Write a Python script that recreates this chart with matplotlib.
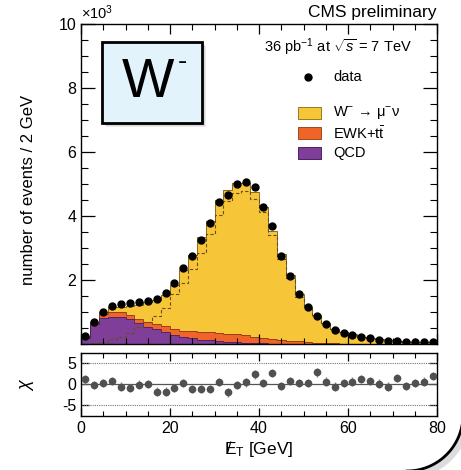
import numpy as np
import matplotlib
matplotlib.use('Agg')
from matplotlib import pyplot as plt
from matplotlib.patches import Rectangle
from matplotlib.ticker import MultipleLocator

plt.rcParams['font.family'] = ['Liberation Sans', 'DejaVu Sans']
plt.rcParams['mathtext.fontset'] = 'custom'
plt.rcParams['mathtext.rm'] = 'Liberation Sans'
plt.rcParams['mathtext.it'] = 'Liberation Sans:italic'
plt.rcParams['mathtext.bf'] = 'Liberation Sans:bold'

# MET bins, 2 GeV wide, counts in units of 10^3
edges = np.arange(0, 82, 2)
centers = edges[:-1] + 1

data = [0.26, 0.68, 0.99, 1.20, 1.24, 1.27, 1.30, 1.35, 1.41, 1.59,
        1.91, 2.36, 2.75, 3.26, 3.79, 4.43, 4.67, 5.00, 5.07, 4.92,
        4.29, 3.69, 2.75, 2.12, 1.56, 1.16, 0.89, 0.63, 0.44, 0.35,
        0.29, 0.22, 0.18, 0.13, 0.09, 0.09, 0.07, 0.06, 0.05, 0.05]
qcd = [0.18, 0.62, 0.80, 0.85, 0.85, 0.77, 0.65, 0.54, 0.47, 0.39,
       0.28, 0.23, 0.18, 0.14, 0.11, 0.09, 0.07, 0.05, 0.04, 0.03,
       0.02, 0.015, 0.01, 0.01, 0.005, 0.005, 0.0, 0.0, 0.0, 0.0,
       0.0, 0.0, 0.0, 0.0, 0.0, 0.0, 0.0, 0.0, 0.0, 0.0]
ewk = [0.03, 0.06, 0.15, 0.16, 0.15, 0.14, 0.14, 0.16, 0.15, 0.16,
       0.18, 0.19, 0.22, 0.24, 0.25, 0.25, 0.25, 0.25, 0.23, 0.20,
       0.17, 0.145, 0.12, 0.09, 0.075, 0.055, 0.04, 0.03, 0.02, 0.015,
       0.01, 0.01, 0.005, 0.005, 0.003, 0.003, 0.002, 0.002, 0.001, 0.001]
wsig = [0.04, 0.02, 0.06, 0.14, 0.17, 0.28, 0.43, 0.60, 0.74, 0.98,
        1.37, 1.88, 2.38, 2.97, 3.49, 4.16, 4.48, 4.72, 4.77, 4.53,
        4.10, 3.38, 2.67, 2.06, 1.48, 1.09, 0.86, 0.64, 0.46, 0.365,
        0.29, 0.22, 0.175, 0.145, 0.117, 0.097, 0.078, 0.058, 0.049, 0.049]
# dashed outline (W template alone)
wdash = [0.0, 0.02, 0.07, 0.15, 0.21, 0.35, 0.52, 0.69, 0.86, 1.14,
         1.55, 1.90, 2.33, 2.85, 3.44, 4.03, 4.48, 4.72, 4.77, 4.53,
         4.12, 3.40, 2.67, 2.06, 1.48, 1.09, 0.86, 0.64, 0.46, 0.365,
         0.29, 0.22, 0.175, 0.145, 0.117, 0.097, 0.078, 0.058, 0.049, 0.049]
chi = [1.1, -0.2, 0.2, 0.8, -0.6, -1.0, -0.1, 0.0, -1.8, -1.8,
       -0.9, 0.3, -1.2, -1.2, -1.1, 0.5, -2.0, -0.2, 0.4, 2.3,
       0.2, 2.6, -0.5, 0.8, 0.2, 0.3, 2.8, 0.6, -0.6, 0.2,
       0.6, 1.2, 0.8, 0.1, -0.6, 1.4, -0.5, 0.2, 0.6, 1.9]

c_w = '#f6c638'
c_ewk = '#f0642a'
c_qcd = '#7f3f98'

qcd = np.array(qcd)
ewk = np.array(ewk)
wsig = np.array(wsig)
bkg = qcd + ewk
total = bkg + wsig

fig = plt.figure(figsize=(4.61, 4.70), dpi=100)
ax = fig.add_axes([81/461, 1-344/470, 356/461, 320/470])
axr = fig.add_axes([81/461, 1-416/470, 356/461, 63/470])

# stacked histograms
ax.stairs(total, edges, baseline=0, fill=True, color=c_w)
ax.stairs(bkg, edges, baseline=0, fill=True, color=c_ewk)
ax.stairs(qcd, edges, baseline=0, fill=True, color=c_qcd)
ax.stairs(total, edges, baseline=None, color='#8a6a20', lw=0.7)
ax.stairs(bkg, edges, baseline=None, color='#8a3a10', lw=0.6)
ax.stairs(qcd, edges, baseline=None, color='#4a2060', lw=0.6)
ax.stairs(wdash, edges, baseline=None, color='#6a4a20', lw=0.8, ls=(0, (3, 2)))
ax.plot(centers, data, 'o', color='k', ms=5, zorder=5)

ax.set_xlim(0, 80)
ax.set_ylim(0, 10)
ax.xaxis.set_major_locator(MultipleLocator(20))
ax.xaxis.set_minor_locator(MultipleLocator(5))
ax.yaxis.set_minor_locator(MultipleLocator(0.5))
ax.set_yticks([2, 4, 6, 8, 10])
ax.tick_params(which='both', direction='in', top=True, right=True, labelsize=11.5)
ax.tick_params(which='major', length=10, width=0.9)
ax.tick_params(which='minor', length=5, width=0.8)
ax.tick_params(axis='x', which='major', length=7)
ax.tick_params(axis='x', which='minor', length=4)
ax.set_xticklabels([])
ax.set_ylabel('number of events / 2 GeV', fontsize=12)
ax.yaxis.set_label_coords(-0.125, 0.48)
for s in ax.spines.values():
    s.set_linewidth(1.0)

# legend, drawn by hand
ax.text(0.93, 0.928, r'36 pb$^{-1}$ at $\sqrt{s}$ = 7 TeV', transform=ax.transAxes,
        ha='right', va='center', fontsize=10.5)
ax.plot([0.638], [0.834], 'o', color='k', ms=5, transform=ax.transAxes, clip_on=False)
ax.text(0.708, 0.834, 'data', transform=ax.transAxes, ha='left', va='center', fontsize=10.5)
leg = [(c_w, '#9a7a20', 'W$^{-}$ \u2192 \u03bc$^{-}$\u03bd', 0.722),
       (c_ewk, '#9a4a20', r'EWK+t$\bar{\rm t}$', 0.659),
       (c_qcd, '#4a2060', 'QCD', 0.597)]
for fc, ec, lab, yc in leg:
    ax.add_patch(Rectangle((0.610, yc - 0.019), 0.064, 0.038, transform=ax.transAxes,
                           facecolor=fc, edgecolor=ec, lw=0.7))
    ax.text(0.708, yc, lab, transform=ax.transAxes, ha='left', va='center', fontsize=10.5)

fig.text(0.946, 0.974, 'CMS preliminary', ha='right', va='center', fontsize=12.5)
fig.text(81/461, 0.972, r'$\times$10$^{3}$', ha='left', va='center', fontsize=10.5)

# W- box with shadow
for off, a in [(4, 0.12), (3, 0.15), (2, 0.2)]:
    fig.patches.append(Rectangle(((102+off)/461, 1-(123+off)/470), 100/461, 81/470,
                                 transform=fig.transFigure, facecolor='#606060',
                                 edgecolor='none', alpha=a))
fig.patches.append(Rectangle((102/461, 1-123/470), 100/461, 81/470,
                             transform=fig.transFigure, facecolor='#e3f3fc',
                             edgecolor='k', lw=2))
fig.text(148/461, 1-83/470, 'W', ha='center', va='center', fontsize=40)
fig.text(182/461, 1-62/470, '-', ha='center', va='center', fontsize=20)

# chi panel
axr.axhline(0, color='#555555', lw=0.9)
axr.axhline(5, color='#777777', lw=0.8, ls=(0, (1, 1)))
axr.axhline(-5, color='#777777', lw=0.8, ls=(0, (1, 1)))
axr.errorbar(centers, chi, yerr=1.0, fmt='o', color='#505050', ecolor='#8a8a8a',
             ms=4.5, elinewidth=1.0, capsize=0, zorder=5)
axr.set_xlim(0, 80)
axr.set_ylim(-7.6, 7.4)
axr.set_yticks([-5, 0, 5])
axr.set_yticklabels(['-5', '0', '5'])
axr.xaxis.set_major_locator(MultipleLocator(20))
axr.xaxis.set_minor_locator(MultipleLocator(5))
axr.tick_params(which='both', direction='in', top=True, right=True, labelsize=11.5)
axr.tick_params(which='major', length=6, width=0.9)
axr.tick_params(which='minor', length=3.5, width=0.8)
axr.set_ylabel(r'$\chi$', fontsize=13)
axr.yaxis.set_label_coords(-0.125, 0.5)
axr.set_xlabel(r'$\not\!\!{\rm E}_{\rm T}$ [GeV]', fontsize=12.5, labelpad=2)
for s in axr.spines.values():
    s.set_linewidth(1.0)

# page corner decoration
th = np.linspace(0, np.pi / 2, 100)
cx, cy, r = 407, 415, 56
fig.lines.append(plt.Line2D((cx + (r + 4) * np.cos(th)) / 461, 1 - (cy + (r + 4) * np.sin(th)) / 470,
                            transform=fig.transFigure, color='#bbbbbb', lw=5, alpha=0.5))
fig.lines.append(plt.Line2D((cx + r * np.cos(th)) / 461, 1 - (cy + r * np.sin(th)) / 470,
                            transform=fig.transFigure, color='k', lw=2))

plt.savefig('out.png', dpi=100)
